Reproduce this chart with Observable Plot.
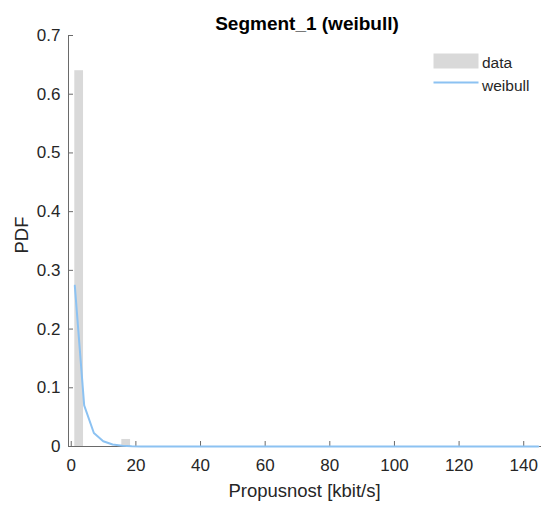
<!DOCTYPE html>
<html>
<head>
<meta charset="utf-8">
<script src="https://cdn.jsdelivr.net/npm/d3@7"></script>
<script src="https://cdn.jsdelivr.net/npm/@observablehq/plot@0.6"></script>
<style>
  html, body { margin: 0; padding: 0; background: #fff; }
  #chart { width: 547px; height: 508px; position: relative; }
</style>
</head>
<body>
<div id="chart"></div>
<script>
// ---- data ----
const titleText = "Segment_1 (weibull)";
const xLabel = "Propusnost [kbit/s]";
const yLabel = "PDF";
const xTicks = [0, 20, 40, 60, 80, 100, 120, 140];
const yTicks = [0, 0.1, 0.2, 0.3, 0.4, 0.5, 0.6, 0.7];
const xDomain = [-0.85, 145.5];
const yDomain = [0, 0.7];

// histogram bars ("data")
const barX1 = [1.1, 15.65];
const barX2 = [3.8, 18.35];
const barPdf = [0.64, 0.012];

// fitted weibull curve
const fitX = [1.1, 4.0, 7.0, 9.9, 12.8, 15.8, 18.7, 21.6, 30.0, 144.5];
const fitPdf = [0.274, 0.070, 0.023, 0.009, 0.0035, 0.0014, 0.0006, 0.0002, 0.0, 0.0];

const legendNames = ["data", "weibull"];

// ---- build ----
const W = 547, H = 508;
const mL = 68, mR = 6, mT = 35, mB = 62;
const frameW = W - mL - mR, frameH = H - mT - mB;
const axisColor = "#6a6a6a";
const textColor = "#262626";
const barColor = "#d9d9d9";
const lineColor = "#8cc2f2";

const bars = barX1.map((x1, i) => ({x1, x2: barX2[i], y: barPdf[i]}));
const curve = fitX.map((x, i) => ({x, y: fitPdf[i]}));

const svg = Plot.plot({
  width: W, height: H,
  marginLeft: mL, marginRight: mR, marginTop: mT, marginBottom: mB,
  style: {fontFamily: "'Liberation Sans', Arial, sans-serif", fontSize: "17px", color: textColor, background: "#fff"},
  x: {domain: xDomain, label: null},
  y: {domain: yDomain, label: null},
  marks: [
    Plot.rectY(bars, {x1: "x1", x2: "x2", y: "y", fill: barColor}),
    Plot.axisX({ticks: xTicks, tickSize: 0, tickPadding: 12, tickFormat: d => String(d), label: null, fill: textColor}),
    Plot.axisY({ticks: yTicks, tickSize: 0, tickPadding: 8, tickFormat: d => d === 0 ? "0" : d3.format(".1f")(d), label: null, fill: textColor}),
    Plot.tickX(xTicks, {x: d => d, insetTop: frameH - 5, stroke: axisColor}),
    Plot.tickY(yTicks, {y: d => d, insetRight: frameW - 5, stroke: axisColor}),
    Plot.ruleX([xDomain[0]], {stroke: axisColor}),
    Plot.ruleY([yDomain[0]], {stroke: axisColor}),
    Plot.line(curve, {x: "x", y: "y", stroke: lineColor, strokeWidth: 2})
  ]
});

const s = d3.select(svg);
// title
s.append("text").attr("x", 307).attr("y", 29.5).attr("text-anchor", "middle")
  .attr("font-size", 19).attr("font-weight", "bold").attr("fill", "#000").text(titleText);
// x label
s.append("text").attr("x", mL + frameW / 2).attr("y", 496.5).attr("text-anchor", "middle")
  .attr("font-size", 18.5).attr("fill", textColor).text(xLabel);
// y label
s.append("text").attr("transform", `translate(27.5,${235}) rotate(-90)`).attr("text-anchor", "middle")
  .attr("font-size", 18.5).attr("fill", textColor).text(yLabel);
// legend
const lg = s.append("g");
lg.append("rect").attr("x", 433.5).attr("y", 53.5).attr("width", 45).attr("height", 15).attr("fill", barColor);
lg.append("text").attr("x", 482).attr("y", 68).attr("text-anchor", "start").attr("font-size", 15.5).attr("fill", textColor).text(legendNames[0]);
lg.append("line").attr("x1", 433.5).attr("x2", 478.5).attr("y1", 82.5).attr("y2", 82.5)
  .attr("stroke", lineColor).attr("stroke-width", 2);
lg.append("text").attr("x", 482).attr("y", 90.5).attr("text-anchor", "start").attr("font-size", 15.5).attr("fill", textColor).text(legendNames[1]);

document.getElementById("chart").appendChild(svg);
</script>
</body>
</html>
